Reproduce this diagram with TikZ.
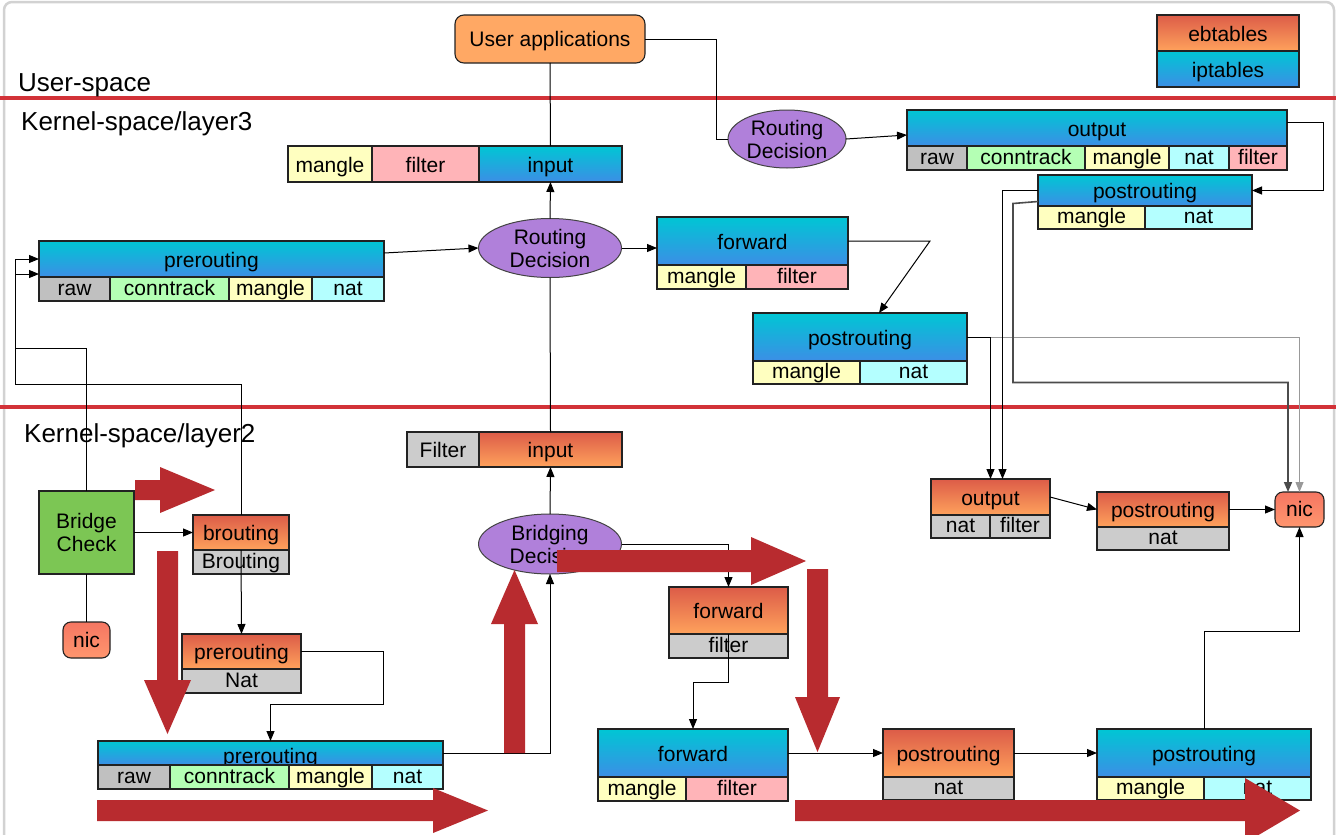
\documentclass[tikz,border=0pt]{standalone}
\usepackage{fontspec}
\setmainfont{Liberation Sans}
\usetikzlibrary{arrows.meta,shapes.geometric}

\definecolor{ipTop}{RGB}{0,198,212}
\definecolor{ipBot}{RGB}{60,142,230}
\definecolor{ebTop}{RGB}{220,92,72}
\definecolor{ebBot}{RGB}{255,162,92}
\definecolor{cGrey}{RGB}{204,204,204}
\definecolor{cRaw}{RGB}{192,192,192}
\definecolor{cConn}{RGB}{180,255,180}
\definecolor{cMangle}{RGB}{255,255,192}
\definecolor{cNat}{RGB}{180,255,255}
\definecolor{cFilter}{RGB}{255,180,184}
\definecolor{cUser}{RGB}{255,168,100}
\definecolor{cDec}{RGB}{176,128,218}
\definecolor{cBridge}{RGB}{124,198,84}
\definecolor{cNicTop}{RGB}{245,118,98}
\definecolor{cNicBot}{RGB}{255,150,110}
\definecolor{cRedLine}{RGB}{210,50,56}
\definecolor{cRedArrow}{RGB}{184,43,47}
\definecolor{cEdge}{RGB}{34,34,34}

\newcommand\lbl{\fontsize{21}{23}\selectfont}
\newcommand\ttl{\fontsize{26}{28}\selectfont}
\newcommand\bx[7]{\node[cellbox,#6,minimum width={(#4-#2)*1pt},minimum height={(#5-#3)*1pt}] (#1) at (#2,#3) {#7};}

\begin{document}
\begin{tikzpicture}[x=1pt,y=-1pt,
  cellbox/.style={draw=cEdge, line width=1.1pt, inner sep=0pt, outer sep=0pt, anchor=north west, font=\lbl},
  hd/.style={text height=16pt, text depth=0pt},
  sb/.style={text height=12pt, text depth=0pt},
  ip/.style={hd, top color=ipTop, bottom color=ipBot},
  eb/.style={hd, top color=ebTop, bottom color=ebBot},
  nicst/.style={rounded corners=8pt, top color=cNicTop, bottom color=cNicBot, text height=14pt, text depth=0pt},
  dec/.style={ellipse, draw=cEdge!85, line width=1pt, fill=cDec, inner sep=0pt, outer sep=0pt, align=center, font=\lbl},
  ttlst/.style={font=\ttl, anchor=base west, inner sep=0pt},
  ln/.style={draw=black, line width=1pt},
  ar/.style={ln, -{Triangle[length=10pt,width=8pt]}},
  redline/.style={draw=cRedLine, line width=3.5pt},
  redarrow/.style={fill=cRedArrow}
]
\useasboundingbox (0,0) rectangle (1336,835);
\clip (0,0) rectangle (1336,835);
\fill[white] (0,0) rectangle (1336,835);
\draw[gray!35, line width=2.5pt, rounded corners=8pt] (4,2) rectangle (1334,870);

% layer separators
\draw[redline] (0,98) -- (1336,98);
\draw[redline] (0,407) -- (1336,407);

% titles
\node[ttlst] (tUser) at (18,91) {User-space};
\node[ttlst] (tL3) at (21,130) {Kernel-space/layer3};
\node[ttlst] (tL2) at (24,442) {Kernel-space/layer2};

% user space
\bx{ua}{455}{15}{645}{63}{fill=cUser, rounded corners=9pt, text height=14pt, text depth=0pt}{User applications}
\bx{ebt}{1157}{15}{1299}{51}{eb}{ebtables}
\bx{ipt}{1157}{51}{1299}{87}{ip}{iptables}

% layer 3
\bx{m3i}{288}{146}{372}{182}{hd,fill=cMangle}{mangle}
\bx{f3i}{372}{146}{479}{182}{hd,fill=cFilter}{filter}
\bx{in3}{479}{146}{622}{182}{ip}{input}

\node[dec, minimum width=143pt, minimum height=59pt] (rd1) at (550,248) {Routing\\Decision};
\node[dec, minimum width=118pt, minimum height=58pt] (rd2) at (787,139) {Routing\\Decision};

\bx{pre3}{39}{241}{384}{277}{ip}{prerouting}
\bx{pre3a}{39}{277}{110}{301}{sb,fill=cRaw}{raw}
\bx{pre3b}{110}{277}{229}{301}{sb,fill=cConn}{conntrack}
\bx{pre3c}{229}{277}{312}{301}{sb,fill=cMangle}{mangle}
\bx{pre3d}{312}{277}{384}{301}{sb,fill=cNat}{nat}

\bx{fwd3}{657}{217}{848}{265}{ip}{forward}
\bx{fwd3a}{657}{265}{746}{289}{sb,fill=cMangle}{mangle}
\bx{fwd3b}{746}{265}{848}{289}{sb,fill=cFilter}{filter}

\bx{post3}{753}{313}{967}{361}{ip}{postrouting}
\bx{post3a}{753}{361}{860}{384}{sb,fill=cMangle}{mangle}
\bx{post3b}{860}{361}{967}{384}{sb,fill=cNat}{nat}

\bx{out3}{907}{110}{1287}{146}{ip}{output}
\bx{out3a}{907}{146}{967}{170}{sb,fill=cRaw}{raw}
\bx{out3b}{967}{146}{1085}{170}{sb,fill=cConn}{conntrack}
\bx{out3c}{1085}{146}{1169}{170}{sb,fill=cMangle}{mangle}
\bx{out3d}{1169}{146}{1229}{170}{sb,fill=cNat}{nat}
\bx{out3e}{1229}{146}{1287}{170}{sb,fill=cFilter}{filter}

\bx{post4}{1038}{175}{1252}{206}{ip}{postrouting}
\bx{post4a}{1038}{206}{1145}{229}{sb,fill=cMangle}{mangle}
\bx{post4b}{1145}{206}{1252}{229}{sb,fill=cNat}{nat}

% layer 2
\bx{fil2}{407}{432}{479}{467}{hd,fill=cGrey}{Filter}
\bx{in2}{479}{432}{622}{467}{eb}{input}
\node[dec, minimum width=143pt, minimum height=60pt] (bd) at (550,544) {Bridging\\Decision};

\bx{bc}{39}{491}{134}{574}{fill=cBridge, align=center}{Bridge\\Check}
\bx{nic1}{63}{622}{110}{658}{nicst}{nic}

\bx{br}{193}{515}{289}{550}{eb}{brouting}
\bx{bra}{193}{550}{289}{574}{sb,fill=cGrey}{Brouting}

\bx{pre2e}{182}{634}{301}{669}{eb}{prerouting}
\bx{pre2ea}{182}{669}{301}{693}{sb,fill=cGrey}{Nat}

\bx{pre2i}{98}{741}{443}{765}{ip,text height=20pt}{prerouting}
\bx{pre2ia}{98}{765}{170}{789}{sb,fill=cRaw}{raw}
\bx{pre2ib}{170}{765}{289}{789}{sb,fill=cConn}{conntrack}
\bx{pre2ic}{289}{765}{372}{789}{sb,fill=cMangle}{mangle}
\bx{pre2id}{372}{765}{443}{789}{sb,fill=cNat}{nat}

\bx{fwd2e}{669}{587}{788}{634}{eb}{forward}
\bx{fwd2ea}{669}{634}{788}{658}{sb,fill=cGrey}{filter}

\bx{fwd2i}{598}{729}{788}{777}{ip}{forward}
\bx{fwd2ia}{598}{777}{686}{801}{sb,fill=cMangle}{mangle}
\bx{fwd2ib}{686}{777}{788}{801}{sb,fill=cFilter}{filter}

\bx{post2e}{883}{729}{1014}{777}{eb}{postrouting}
\bx{post2ea}{883}{777}{1014}{800}{sb,fill=cGrey}{nat}

\bx{post2i}{1097}{729}{1311}{777}{ip}{postrouting}
\bx{post2ia}{1097}{777}{1204}{800}{sb,fill=cMangle}{mangle}
\bx{post2ib}{1204}{777}{1311}{800}{sb,fill=cNat}{nat}

\bx{out2}{931}{479}{1050}{515}{eb}{output}
\bx{out2a}{931}{515}{990}{538}{sb,fill=cGrey}{nat}
\bx{out2b}{990}{515}{1050}{538}{sb,fill=cGrey}{filter}

\bx{post2r}{1097}{492}{1229}{527}{eb}{postrouting}
\bx{post2ra}{1097}{527}{1229}{550}{sb,fill=cGrey}{nat}

\bx{nic2}{1275}{492}{1324}{527}{nicst}{nic}

% connectors, layer 3 / user space
\draw[ln] (ua.south) -- (in3.north);
\draw[ln] (ua.east) -- ++(71,0) |- (rd2.west);
\draw[ar] (rd2.east) -- ([yshift=-7pt]out3.west);
\draw[ar] ([yshift=6pt]out3.east) -- ++(36,0) |- (post4.east);
\draw[ar] ([yshift=6pt]pre3.east) -- (rd1.west);
\draw[ar] (rd1.north) -- (in3.south);
\draw[ar] (rd1.east) -- (rd1.east -| fwd3.west);
\draw[ar] (fwd3.east) -- ++(82,0) -- ([xshift=19pt]post3.north);
\draw[ln] (rd1.south) -- (in2.north);
\draw[ar, draw=gray!80, line width=0.8pt] (post3.east) -| (nic2.north);
\draw[ar] (post3.east) -| (out2.north);
\draw[ar] (post4.west) -| ([xshift=12pt]out2.north);
\draw[ar, draw=black!70, line width=1.6pt] ([yshift=-11pt]post4.west) -- ++(-25,2) -- ++(0,179) -| ([xshift=-11.5pt]nic2.north);

% connectors, layer 2
\coordinate (lp1) at (15,348);
\coordinate (lp2) at (15,384);
\draw[ar] (bc.north) |- (lp1) |- ([yshift=-15pt]pre3.west);
\draw[ar] (br.north) |- (lp2) |- (pre3.west);
\draw[ar] (bc.east) -- (br.west);
\draw[ln] (bc.south) -- (nic1.north);
\draw[ar] (br.south) -- (pre2e.north);
\draw[ar] (pre2e.east) -- ++(82,0) -- ++(0,52.5) -| (pre2i.north);
\draw[ar] (pre2i.east) -| (bd.south);
\draw[ar] (bd.north) -- (in2.south);
\draw[ar] (bd.east) -| (fwd2e.north);
\draw[ar] (fwd2e.south) -- ++(0,48) -| (fwd2i.north);
\draw[ar] (fwd2i.east) -- (post2e.west);
\draw[ar] (post2e.east) -- (post2i.west);
\draw[ar] (post2i.north) -- ++(0,-98) -| (nic2.south);
\draw[ar] (out2.east) -- (post2r.west);
\draw[ar] (post2r.east) -- (nic2.west);

% red flow arrows
\fill[redarrow] (135,480) -- (160,480) -- (160,467) -- (215,490) -- (160,513) -- (160,500) -- (135,500) -- cycle;
\fill[redarrow] (157,551) -- (178,551) -- (178,680) -- (191,680) -- (167.5,734) -- (144,680) -- (157,680) -- cycle;
\fill[redarrow] (97,800) -- (433,800) -- (433,788) -- (488,810.5) -- (433,833) -- (433,821) -- (97,821) -- cycle;
\fill[redarrow] (504,753) -- (525,753) -- (525,624) -- (538,624) -- (514.5,570) -- (491,624) -- (504,624) -- cycle;
\fill[redarrow] (557,550) -- (751,550) -- (751,537) -- (806,561) -- (751,585) -- (751,572) -- (557,572) -- cycle;
\fill[redarrow] (807,569) -- (828,569) -- (828,697) -- (840,697) -- (817.5,752) -- (795,697) -- (807,697) -- cycle;
\fill[redarrow] (795,800) -- (1245,800) -- (1245,778) -- (1300,810.5) -- (1245,843) -- (1245,821) -- (795,821) -- cycle;
\end{tikzpicture}
\end{document}
